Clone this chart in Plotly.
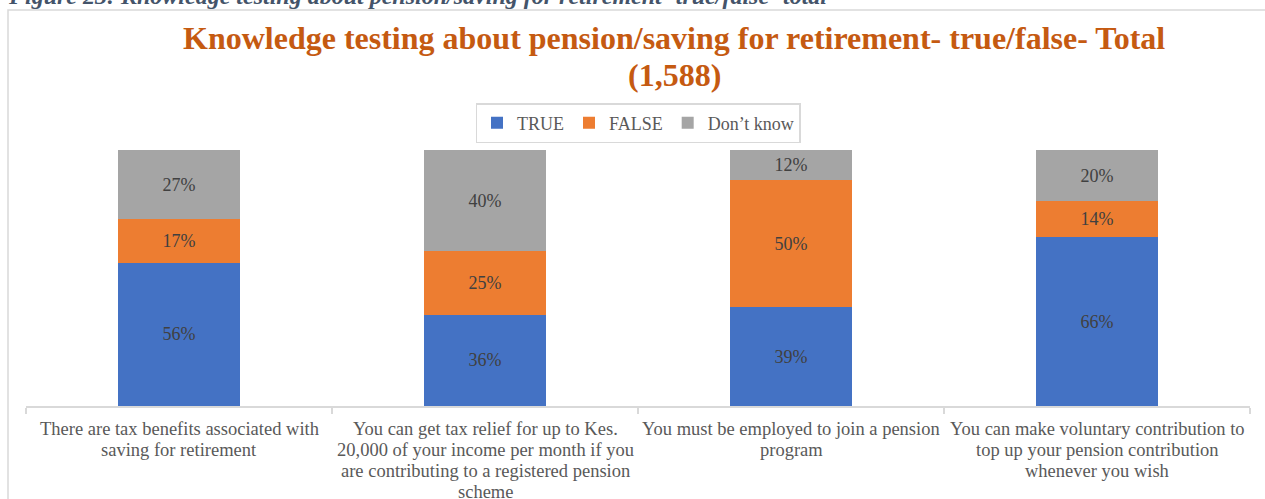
import plotly.graph_objects as go

# ---- data -------------------------------------------------------------
statements = [
    "There are tax benefits associated with<br>saving for retirement",
    "You can get tax relief for up to Kes.<br>20,000 of your income per month if you<br>"
    "are contributing to a registered pension<br>scheme",
    "You must be employed to join a pension<br>program",
    "You can make voluntary contribution to<br>top up your pension contribution<br>whenever you wish",
]
series_names = ["TRUE", "FALSE", "Don\u2019t know"]
true_pct = [56, 36, 39, 66]
false_pct = [17, 25, 50, 14]
dont_know_pct = [27, 40, 12, 20]
series_values = [true_pct, false_pct, dont_know_pct]
series_colors = ["#4472C4", "#ED7D31", "#A5A5A5"]

caption = "Figure 23: Knowledge testing about pension/saving for retirement- true/false- total"
title_lines = [
    "Knowledge testing about pension/saving for retirement- true/false- Total",
    "(1,588)",
]

# ---- page geometry (pixels) ------------------------------------------
W, H = 1265, 499
ML, MR, MT, MB = 26, 15, 150, 93
PW, PH = W - ML - MR, H - MT - MB


def fx(px):
    """pixel x -> paper x"""
    return (px - ML) / PW


def fy(py):
    """pixel y (from top) -> paper y"""
    return (H - MB - py) / PH


SERIF = "Liberation Serif, Times New Roman, serif"

fig = go.Figure()
for name, vals, color in zip(series_names, series_values, series_colors):
    fig.add_trace(go.Bar(
        x=statements,
        y=vals,
        name=name,
        marker=dict(color=color, line=dict(width=0)),
        text=[f"{v}%" for v in vals],
        textposition="inside",
        insidetextanchor="middle",
        textangle=0,
        constraintext="none",
        textfont=dict(family=SERIF, size=18, color="#404040"),
        hoverinfo="skip",
    ))

fig.update_layout(
    width=W,
    height=H,
    margin=dict(l=ML, r=MR, t=MT, b=MB, pad=0, autoexpand=False),
    paper_bgcolor="white",
    plot_bgcolor="white",
    barmode="stack",
    barnorm="percent",
    bargap=0.6,
    showlegend=True,
    legend=dict(
        orientation="h",
        x=0.5,
        xanchor="center",
        y=fy(103),
        yanchor="top",
        bordercolor="#D9D9D9",
        borderwidth=1.5,
        font=dict(family=SERIF, size=18, color="#595959"),
        itemclick=False,
        itemwidth=30,
        traceorder="normal",
    ),
    font=dict(family=SERIF, color="#595959"),
)

fig.update_xaxes(
    automargin=False,
    showline=True,
    linecolor="#D9D9D9",
    linewidth=1.5,
    ticks="outside",
    tickson="boundaries",
    ticklen=6,
    tickcolor="#D9D9D9",
    tickwidth=1.5,
    showticklabels=False,
    showgrid=False,
    zeroline=False,
    fixedrange=True,
)
fig.update_yaxes(visible=False, range=[0, 100], fixedrange=True)

# category labels: wrapped lines set with a tight line spacing
LABEL_TOP, LABEL_STEP = 429, 21
for cat in statements:
    for i, line_text in enumerate(cat.split("<br>")):
        fig.add_annotation(
            text=line_text,
            xref="x", yref="paper",
            x=cat, y=fy(LABEL_TOP + i * LABEL_STEP),
            xanchor="center", yanchor="middle",
            showarrow=False,
            font=dict(family=SERIF, size=18.5, color="#595959"),
        )

# outer chart frame
fig.add_shape(
    type="rect", xref="paper", yref="paper",
    x0=fx(8), x1=fx(1290), y0=fy(530), y1=fy(10),
    line=dict(color="#D9D9D9", width=1.5), fillcolor="rgba(0,0,0,0)",
    layer="below",
)

# chart title, one annotation per line
for line_text, cy in zip(title_lines, [38, 75]):
    fig.add_annotation(
        text=f"<b>{line_text}</b>",
        xref="paper", yref="paper",
        x=fx(674), y=fy(cy), xanchor="center", yanchor="middle",
        showarrow=False, align="center",
        font=dict(family=SERIF, size=32, color="#C55A11"),
    )

# figure caption above the frame
fig.add_annotation(
    text=f"<b><i>{caption}</i></b>",
    xref="paper", yref="paper",
    x=fx(6), y=fy(-4), xanchor="left", yanchor="middle",
    showarrow=False,
    font=dict(family=SERIF, size=24, color="#44546A"),
)

fig.write_html("out.html", config={"displayModeBar": False})
